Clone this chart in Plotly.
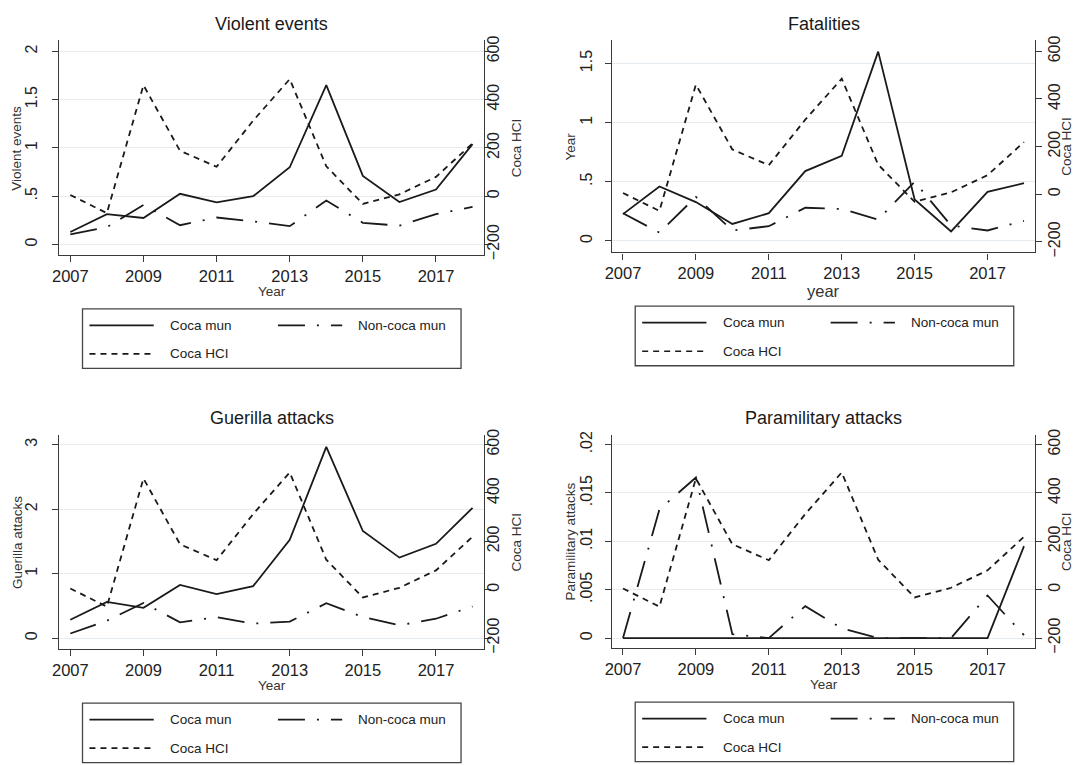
import plotly.graph_objects as go

W, H = 1081, 765

years = list(range(2007, 2019))
x_ticks = [2007, 2009, 2011, 2013, 2015, 2017]

coca_hci = [5, -70, 460, 188, 122, 313, 485, 124, -32, 8, 80, 219]

violent_coca = [0.13, 0.315, 0.275, 0.525, 0.437, 0.50, 0.80, 1.65, 0.71, 0.44, 0.57, 1.04]
violent_noncoca = [0.105, 0.18, 0.41, 0.20, 0.28, 0.24, 0.19, 0.455, 0.225, 0.195, 0.315, 0.39]

fatal_coca = [0.226, 0.46, 0.328, 0.143, 0.234, 0.59, 0.72, 1.60, 0.35, 0.08, 0.414, 0.488]
fatal_noncoca = [0.234, 0.07, 0.372, 0.088, 0.124, 0.28, 0.27, 0.18, 0.50, 0.13, 0.088, 0.17]

guer_coca = [0.285, 0.56, 0.47, 0.825, 0.683, 0.805, 1.523, 2.965, 1.66, 1.248, 1.462, 2.02]
guer_noncoca = [0.071, 0.27, 0.545, 0.245, 0.326, 0.224, 0.255, 0.54, 0.326, 0.199, 0.30, 0.49]

para_coca = [0, 0, 0, 0, 0, 0, 0, 0, 0, 0, 0, 0.0095]
para_noncoca = [0, 0.0133, 0.0166, 0.0004, 0, 0.0033, 0.001, 0, 0, 0, 0.0044, 0.0003]

series_names = ["Coca mun", "Non-coca mun", "Coca HCI"]
titles = ["Violent events", "Fatalities", "Guerilla attacks", "Paramilitary attacks"]
ytitles = ["Violent events", "Year", "Guerilla attacks", "Paramilitary attacks"]
xtitles = ["Year", "year", "Year", "Year"]
right_title = "Coca HCI"

left_ticks = [
    ([0, 0.5, 1, 1.5, 2], ["0", ".5", "1", "1.5", "2"]),
    ([0, 0.5, 1, 1.5], ["0", ".5", "1", "1.5"]),
    ([0, 1, 2, 3], ["0", "1", "2", "3"]),
    ([0, 0.005, 0.01, 0.015, 0.02], ["0", ".005", ".01", ".015", ".02"]),
]
right_ticks = [-200, 0, 200, 400, 600]

panel_data = [
    (violent_coca, violent_noncoca),
    (fatal_coca, fatal_noncoca),
    (guer_coca, guer_noncoca),
    (para_coca, para_noncoca),
]

# layout (pixel boxes of each plot area: x0, x1, ytop, ybottom)
boxes = [
    (52.7, 480, 35, 252.7),
    (609, 1035, 35, 250),
    (52.7, 480, 435, 652.7),
    (609, 1035, 435, 651.7),
]
left_ranges = [(-0.109, 2.1122), (-0.0975, 1.694), (-0.174, 3.153), (-0.00106, 0.02102)]
right_ranges = [(-243.7, 644.9), (-244.3, 645.5), (-246.4, 640.8), (-242.4, 640.8)]
x_range = (2006.70, 2018.31)
left_standoff = [9, 7, 9, 7]
right_standoff = [-11, -2, -11, -2]
left_title_dx = [-42.7, -42.3, -42.7, -41.3]
right_title_dx = [32.7, 31.3, 32.7, 31.3]

FONT = "Arial, Liberation Sans, sans-serif"
INK = "#1a1a1a"
AX = "#3a3a3a"
GRID = "#e3ebf0"
DASH_HCI = "6px,5px"
DASH_NON = "27px,12px,2px,12px"
styles = [dict(color=INK, width=1.8), dict(color=INK, width=1.8, dash=DASH_NON),
          dict(color=INK, width=1.8, dash=DASH_HCI)]

def px(x):
    return x / W

def py(y):
    return 1 - y / H

fig = go.Figure()
annotations = []
shapes = []

for i in range(4):
    x0, x1, yt, yb = boxes[i]
    xa = "x" if i == 0 else f"x{i+1}"
    ly = f"y{2*i+1}" if i > 0 else "y"
    ry = f"y{2*i+2}"
    coca, non = panel_data[i]
    fig.add_trace(go.Scatter(x=years, y=coca, mode="lines", line=styles[0],
                             name=series_names[0], xaxis=xa, yaxis=ly, showlegend=False))
    fig.add_trace(go.Scatter(x=years, y=non, mode="lines", line=styles[1],
                             name=series_names[1], xaxis=xa, yaxis=ly, showlegend=False))
    fig.add_trace(go.Scatter(x=years, y=coca_hci, mode="lines", line=styles[2],
                             name=series_names[2], xaxis=xa, yaxis=ry, showlegend=False))

    xkey = "xaxis" if i == 0 else f"xaxis{i+1}"
    lkey = "yaxis" if i == 0 else f"yaxis{2*i+1}"
    rkey = f"yaxis{2*i+2}"
    fig.layout[xkey] = dict(
        domain=[px(x0), px(x1)], anchor=ly, range=list(x_range),
        tickvals=x_ticks, showgrid=False, zeroline=False, showline=True,
        linecolor=AX, linewidth=1.3, ticks="outside", ticklen=6, tickcolor=AX,
        tickwidth=1.3, tickfont=dict(family=FONT, size=16.5, color="#222"),
    )
    fig.layout[lkey] = dict(
        domain=[py(yb), py(yt)], anchor=xa, range=list(left_ranges[i]),
        tickvals=left_ticks[i][0], ticktext=left_ticks[i][1], tickangle=-90,
        showgrid=True, gridcolor=GRID, gridwidth=1.4, zeroline=False,
        showline=True, linecolor=AX, linewidth=1.3, ticks="outside", ticklen=6,
        tickcolor=AX, tickwidth=1.3, tickfont=dict(family=FONT, size=16, color="#222"),
        ticklabelstandoff=left_standoff[i],
    )
    fig.layout[rkey] = dict(
        overlaying=ly, side="right", anchor=xa, range=list(right_ranges[i]),
        tickvals=right_ticks, tickangle=-90, showgrid=False, zeroline=False,
        showline=True, linecolor=AX, linewidth=1.3, ticks="outside", ticklen=6,
        tickcolor=AX, tickwidth=1.3, tickfont=dict(family=FONT, size=16, color="#222"),
        ticklabelstandoff=right_standoff[i],
    )

    cx = (x0 + x1) / 2
    cy = (yt + yb) / 2
    # panel title
    annotations.append(dict(text=titles[i], x=px(cx), y=py(yt - 16.5), xref="paper", yref="paper",
                            xanchor="center", yanchor="middle", showarrow=False,
                            font=dict(family=FONT, size=18, color="#1a1a1a")))
    # left y title
    annotations.append(dict(text=ytitles[i], x=px(x0 + left_title_dx[i]), y=py(cy), xref="paper",
                            yref="paper", xanchor="center", yanchor="middle", showarrow=False,
                            textangle=-90, font=dict(family=FONT, size=13.5, color="#333")))
    # right y title
    annotations.append(dict(text=right_title, x=px(x1 + right_title_dx[i]), y=py(cy), xref="paper",
                            yref="paper", xanchor="center", yanchor="middle", showarrow=False,
                            textangle=-90, font=dict(family=FONT, size=13.5, color="#333")))
    # x title
    if xtitles[i] == "year":
        xs, dy = 16.5, 39.5
    else:
        xs, dy = 13.5, 37
    annotations.append(dict(text=xtitles[i], x=px(cx), y=py(yb + dy), xref="paper", yref="paper",
                            xanchor="center", yanchor="middle", showarrow=False,
                            font=dict(family=FONT, size=xs, color="#333")))

    # legend box (Stata style)
    bx0 = x0 + 23.3
    bx1 = bx0 + 381
    by0 = yb + 54.6
    by1 = by0 + 60.4
    shapes.append(dict(type="rect", xref="paper", yref="paper", x0=px(bx0), x1=px(bx1),
                       y0=py(by1), y1=py(by0), line=dict(color="#444", width=1.3),
                       fillcolor="rgba(0,0,0,0)"))
    r1 = by0 + 16.7
    r2 = by0 + 45.7
    entries = [(bx0 + 7, r1, 0), (bx0 + 196.7, r1, 1), (bx0 + 7, r2, 2)]
    for ex, ey, k in entries:
        st = styles[k]
        shapes.append(dict(type="line", xref="paper", yref="paper", x0=px(ex), x1=px(ex + 64.7),
                           y0=py(ey), y1=py(ey),
                           line=dict(color=INK, width=1.7, dash=st.get("dash", "solid"))))
        annotations.append(dict(text=series_names[k], x=px(ex + 79), y=py(ey), xref="paper",
                                yref="paper", xanchor="left", yanchor="middle", showarrow=False,
                                font=dict(family=FONT, size=13.5, color="#222")))

fig.update_layout(
    width=W, height=H, margin=dict(l=0, r=0, t=0, b=0),
    paper_bgcolor="white", plot_bgcolor="white",
    annotations=annotations, shapes=shapes, showlegend=False,
)

fig.write_html("out.html", config={"displayModeBar": False},
               post_script="document.body.style.margin='0';document.body.style.overflow='hidden';")
